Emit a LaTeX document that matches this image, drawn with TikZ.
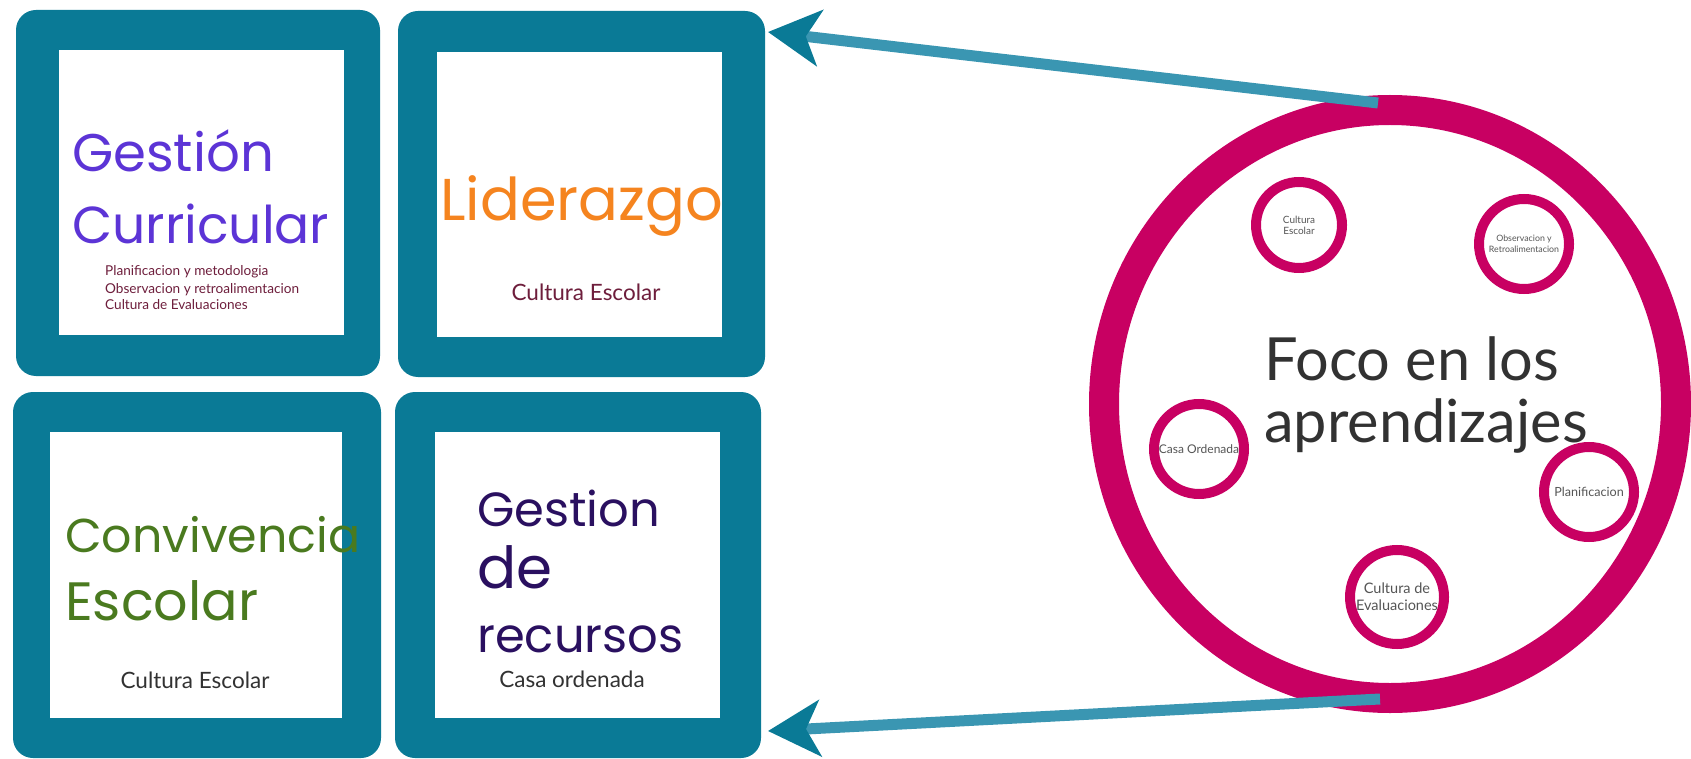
\documentclass[tikz,border=0pt]{standalone}
\usepackage{fontspec}
\setmainfont{Lato}
\newfontfamily\handfont{Poppins}
\usetikzlibrary{arrows.meta,shapes.geometric}
\definecolor{boxteal}{RGB}{10,122,150}
\definecolor{arrowteal}{RGB}{58,150,178}
\definecolor{ringmag}{RGB}{200,0,98}
\definecolor{gcpurple}{RGB}{92,52,214}
\definecolor{lidorange}{RGB}{245,132,31}
\definecolor{convgreen}{RGB}{74,122,31}
\definecolor{recpurple}{RGB}{42,16,96}
\definecolor{maroon}{RGB}{110,30,60}
\definecolor{darkgray}{RGB}{50,50,50}
\definecolor{ringgray}{RGB}{85,85,85}
\newcommand{\hsz}[1]{\handfont\fontsize{#1}{#1}\selectfont}
\tikzset{
  outerbox/.style={fill=boxteal, draw=none, rounded corners=20pt, inner sep=0pt},
  innerbox/.style={fill=white, draw=none, inner sep=0pt},
  title/.style={inner sep=0pt, anchor=base west},
  subtxt/.style={font=\fontsize{22.5}{22.5}\selectfont, inner sep=0pt, anchor=base},
  smallring/.style={circle, draw=ringmag, line width=10pt, fill=white, inner sep=0pt},
  ringtxt/.style={align=center, text=ringgray, inner sep=0pt},
  arr/.style={draw=arrowteal, line width=11pt,
    -{Stealth[length=52pt, width=56pt, inset=14pt, color=boxteal]}},
}
\begin{document}
\begin{tikzpicture}[x=1pt, y=-1pt]
\useasboundingbox (0,0) rectangle (1691,759);
\fill[white] (0,0) rectangle (1691,759);

% boxes
\node[outerbox, minimum width=364pt, minimum height=366pt] (b1) at (198,193) {};
\node[innerbox, minimum width=285pt, minimum height=285pt] (w1) at (201,192.5) {};
\node[outerbox, minimum width=367pt, minimum height=366pt] (b2) at (581.5,194) {};
\node[innerbox, minimum width=285pt, minimum height=285pt] (w2) at (579.5,194.5) {};
\node[outerbox, minimum width=368pt, minimum height=366pt] (b3) at (197,575) {};
\node[innerbox, minimum width=292pt, minimum height=286pt] (w3) at (196,574.5) {};
\node[outerbox, minimum width=366pt, minimum height=366pt] (b4) at (578,575) {};
\node[innerbox, minimum width=285pt, minimum height=286pt] (w4) at (577.5,574.5) {};

% box texts
\node[title, text=gcpurple, font=\hsz{53}] (t1a) at (72,172) {Gestión};
\node[title, text=gcpurple, font=\hsz{52}] (t1b) at (72,244) {Curricular};
\node[anchor=base west, inner sep=0pt, text=maroon, font=\fontsize{13.6}{13.6}\selectfont] (s1a) at (105,276) {Planificacion y metodologia};
\node[anchor=base west, inner sep=0pt, text=maroon, font=\fontsize{13.6}{13.6}\selectfont] (s1b) at (105,293) {Observacion y retroalimentacion};
\node[anchor=base west, inner sep=0pt, text=maroon, font=\fontsize{13.6}{13.6}\selectfont] (s1c) at (105,309) {Cultura de Evaluaciones};

\node[title, text=lidorange, font=\hsz{59}] (t2) at (440,221) {Liderazgo};
\node[subtxt, text=maroon] (s2) at (586,300) {Cultura Escolar};

\node[title, text=convgreen, font=\hsz{47.5}] (t3a) at (65,552) {Convivencia};
\node[title, text=convgreen, font=\hsz{54}] (t3b) at (65,620) {Escolar};
\node[subtxt, text=darkgray] (s3) at (195,688) {Cultura Escolar};

\node[title, text=recpurple, font=\hsz{48}] (t4a) at (477,526) {Gestion};
\node[title, text=recpurple, font=\hsz{58}] (t4b) at (477,588) {de};
\node[title, text=recpurple, font=\hsz{48}] (t4c) at (477,652) {recursos};
\node[subtxt, text=darkgray] (s4) at (572,687) {Casa ordenada};

% big ring
\node[ellipse, draw=ringmag, line width=30pt, minimum width=572pt, minimum height=588pt, inner sep=0pt] (foco) at (1390,404) {};
\node[anchor=base west, inner sep=0pt, text=darkgray, font=\fontsize{59.5}{59.5}\selectfont] (f1) at (1264,380) {Foco en los};
\node[anchor=base west, inner sep=0pt, text=darkgray, font=\fontsize{59.5}{59.5}\selectfont] (f2) at (1264,442) {aprendizajes};

% small rings
\node[smallring, minimum size=86pt] (c1) at (1299,225) {};
\node[ringtxt, font=\fontsize{10}{11}\selectfont] at (c1) {Cultura\\Escolar};
\node[smallring, minimum size=90pt] (c2) at (1524,244) {};
\node[ringtxt, font=\fontsize{8.8}{10.5}\selectfont] at (c2) {Observacion y\\Retroalimentacion};
\node[smallring, minimum size=90pt] (c3) at (1199,449) {};
\node[ringtxt, font=\fontsize{12}{13}\selectfont] at (c3) {Casa Ordenada};
\node[smallring, minimum size=90pt] (c4) at (1589,492) {};
\node[ringtxt, font=\fontsize{12.6}{13}\selectfont] at (c4) {Planificacion};
\node[smallring, minimum size=94pt] (c5) at (1397,597) {};
\node[ringtxt, font=\fontsize{14.5}{17}\selectfont] at (c5) {Cultura de\\Evaluaciones};

% arrows
\coordinate (s1) at (1378,103);
\coordinate (e1) at (768,32);
\coordinate (s2) at (1380,699);
\coordinate (e2) at (768,731);
\draw[arr] (s1) -- (e1);
\draw[arr] (s2) -- (e2);
\end{tikzpicture}
\end{document}
